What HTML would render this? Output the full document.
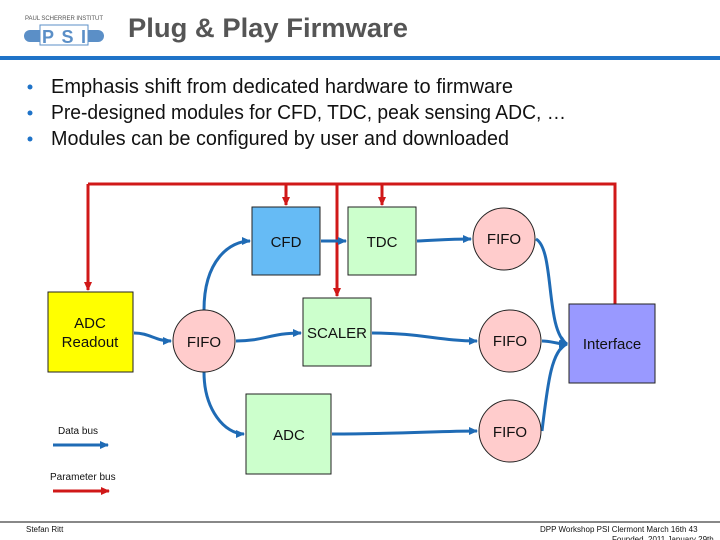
<!DOCTYPE html>
<html><head><meta charset="utf-8"><style>
html,body{margin:0;padding:0;background:#fff;}
svg{display:block;font-family:"Liberation Sans",sans-serif;}
</style></head><body>
<svg width="720" height="540" viewBox="0 0 720 540" xmlns="http://www.w3.org/2000/svg">
<defs>
<marker id="bA" markerWidth="9" markerHeight="8" refX="8" refY="4" orient="auto" markerUnits="userSpaceOnUse"><path d="M0,0L9,4L0,8z" fill="#1f6bb5"/></marker>
<marker id="rA" markerWidth="9" markerHeight="8" refX="8" refY="4" orient="auto" markerUnits="userSpaceOnUse"><path d="M0,0L9,4L0,8z" fill="#d01818"/></marker>
</defs>
<!-- logo -->
<text x="25" y="20" font-size="6" fill="#555" textLength="78">PAUL SCHERRER INSTITUT</text>
<rect x="24" y="30" width="80" height="12" rx="6" fill="#5b8fc7"/>
<rect x="40" y="25" width="48" height="20" fill="#fff" stroke="#5b8fc7" stroke-width="1"/>
<text x="42" y="43" font-size="18" font-weight="bold" fill="#5b8fc7" textLength="44">PSI</text>
<text x="128" y="37" font-size="27" font-weight="bold" fill="#555" textLength="280" lengthAdjust="spacingAndGlyphs">Plug &amp; Play Firmware</text>
<rect x="0" y="56" width="720" height="4" fill="#1f73c8"/>
<!-- bullets -->
<g font-size="20" fill="#111">
<circle cx="30" cy="87" r="2.5" fill="#1f73c8"/><text x="51" y="93" textLength="462" lengthAdjust="spacingAndGlyphs">Emphasis shift from dedicated hardware to firmware</text>
<circle cx="30" cy="113" r="2.5" fill="#1f73c8"/><text x="51" y="119" textLength="515" lengthAdjust="spacingAndGlyphs">Pre-designed modules for CFD, TDC, peak sensing ADC, …</text>
<circle cx="30" cy="139" r="2.5" fill="#1f73c8"/><text x="51" y="145" textLength="458" lengthAdjust="spacingAndGlyphs">Modules can be configured by user and downloaded</text>
</g>
<!-- red parameter bus -->
<g stroke="#d01818" stroke-width="3" fill="none">
<polyline points="88,184 615,184 615,304"/>
<line x1="88" y1="184" x2="88" y2="290" marker-end="url(#rA)"/>
<line x1="286" y1="184" x2="286" y2="205" marker-end="url(#rA)"/>
<line x1="337" y1="184" x2="337" y2="296" marker-end="url(#rA)"/>
<line x1="382" y1="184" x2="382" y2="205" marker-end="url(#rA)"/>
<line x1="53" y1="491" x2="109" y2="491" marker-end="url(#rA)"/>
</g>
<!-- blue data bus -->
<g stroke="#1f6bb5" stroke-width="3" fill="none">
<path d="M134,333 C150,333 155,341 171,341" marker-end="url(#bA)"/>
<path d="M204,310 C204,260 230,241 250,241" marker-end="url(#bA)"/>
<path d="M236,341 C265,341 270,333 301,333" marker-end="url(#bA)"/>
<path d="M204,372 C204,410 225,434 244,434" marker-end="url(#bA)"/>
<line x1="321" y1="241" x2="346" y2="241" marker-end="url(#bA)"/>
<path d="M417,241 C440,240 450,239 471,239" marker-end="url(#bA)"/>
<path d="M372,333 C420,333 440,341 477,341" marker-end="url(#bA)"/>
<path d="M332,434 C400,434 440,431 477,431" marker-end="url(#bA)"/>
<path d="M536,239 C555,250 545,330 567,344" marker-end="url(#bA)"/>
<path d="M542,341 C552,341 556,344 567,344" marker-end="url(#bA)"/>
<path d="M542,431 C548,380 552,350 567,344" marker-end="url(#bA)"/>
<line x1="53" y1="445" x2="108" y2="445" marker-end="url(#bA)"/>
</g>
<!-- boxes -->
<g stroke="#222" stroke-width="1">
<rect x="48" y="292" width="85" height="80" fill="#ffff00"/>
<rect x="252" y="207" width="68" height="68" fill="#66bbf5"/>
<rect x="348" y="207" width="68" height="68" fill="#ccffcc"/>
<rect x="303" y="298" width="68" height="68" fill="#ccffcc"/>
<rect x="246" y="394" width="85" height="80" fill="#ccffcc"/>
<rect x="569" y="304" width="86" height="79" fill="#9999ff"/>
<circle cx="204" cy="341" r="31" fill="#ffcccc"/>
<circle cx="504" cy="239" r="31" fill="#ffcccc"/>
<circle cx="510" cy="341" r="31" fill="#ffcccc"/>
<circle cx="510" cy="431" r="31" fill="#ffcccc"/>
</g>
<g font-size="15" fill="#111" text-anchor="middle">
<text x="90" y="328">ADC</text><text x="90" y="347">Readout</text>
<text x="286" y="247">CFD</text>
<text x="382" y="247">TDC</text>
<text x="337" y="338">SCALER</text>
<text x="289" y="440">ADC</text>
<text x="204" y="347">FIFO</text>
<text x="504" y="244">FIFO</text>
<text x="510" y="346">FIFO</text>
<text x="510" y="437">FIFO</text>
<text x="612" y="349">Interface</text>
</g>
<text x="58" y="434" font-size="10" fill="#111">Data bus</text>
<text x="50" y="480" font-size="10" fill="#111">Parameter bus</text>
<!-- footer -->
<line x1="0" y1="522" x2="720" y2="522" stroke="#111" stroke-width="1"/>
<text x="26" y="532" font-size="8" fill="#111">Stefan Ritt</text>
<text x="540" y="532" font-size="8" fill="#111">DPP Workshop PSI Clermont March 16th 43</text>
<text x="612" y="542" font-size="8" fill="#111">Founded, 2011 January 29th</text>
</svg>
</body></html>
